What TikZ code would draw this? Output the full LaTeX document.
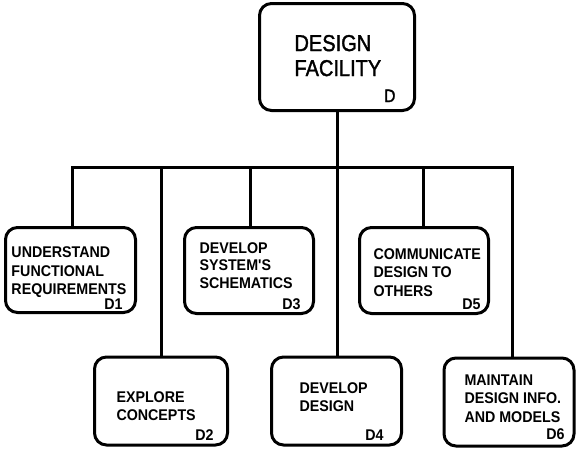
\documentclass[tikz,border=0pt]{standalone}
\usepackage{fontspec}
\setmainfont{Liberation Sans}
\newfontfamily\boxfont[FakeStretch=0.92]{Liberation Sans}
\newfontfamily\titlefont[FakeStretch=0.87, FakeBold=1.5]{Liberation Sans}

\begin{document}
\begin{tikzpicture}[x=1pt, y=-1pt, line width=3pt,
    box/.style={draw, rounded corners=12pt, inner sep=0pt},
    txt/.style={anchor=north west, inner sep=0pt, align=left,
        font=\boxfont\bfseries\fontsize{15.5}{18.3}\selectfont},
    code/.style={anchor=base east, inner sep=0pt,
        font=\boxfont\bfseries\fontsize{15.5}{18}\selectfont}]
    \useasboundingbox (0,0) rectangle (586,456);
    % boxes
    \node[box, minimum width=155pt, minimum height=107pt] (d) at (337,57) {};
    \node[box, minimum width=130pt, minimum height=85pt] (d1) at (70.5,270) {};
    \node[box, minimum width=129pt, minimum height=86pt] (d3) at (249,270.5) {};
    \node[box, minimum width=129pt, minimum height=86pt] (d5) at (424,270.5) {};
    \node[box, minimum width=133pt, minimum height=88pt] (d2) at (161,401) {};
    \node[box, minimum width=130pt, minimum height=88pt] (d4) at (336.5,401) {};
    \node[box, minimum width=130pt, minimum height=88pt] (d6) at (509,402) {};
    % texts
    \node[anchor=north west, inner sep=0pt, align=left,
        font=\titlefont\fontsize{23}{25}\selectfont] (dtxt) at (293,33.5) {DESIGN\\FACILITY};
    \node[anchor=base east, inner sep=0pt,
        font=\titlefont\fontsize{18}{20}\selectfont] (dcode) at (397,102) {D};
    \node[txt] (d1txt) at (10,245.6) {UNDERSTAND\\FUNCTIONAL\\REQUIREMENTS};
    \node[code] (d1code) at (124,309) {D1};
    \node[txt, font=\boxfont\bfseries\fontsize{15.5}{17.5}\selectfont] (d3txt) at (198,240.9)
        {DEVELOP\\SYSTEM'S\\SCHEMATICS};
    \node[code] (d3code) at (302,309) {D3};
    \node[txt, font=\boxfont\bfseries\fontsize{15.5}{18.5}\selectfont] (d5txt) at (372,246.9)
        {COMMUNICATE\\DESIGN TO\\OTHERS};
    \node[code] (d5code) at (482,309) {D5};
    \node[txt] (d2txt) at (115,389.9) {EXPLORE\\CONCEPTS};
    \node[code] (d2code) at (215,440) {D2};
    \node[txt] (d4txt) at (298,380.9) {DEVELOP\\DESIGN};
    \node[code] (d4code) at (385,440) {D4};
    \node[txt, font=\boxfont\bfseries\fontsize{15.5}{18.5}\selectfont] (d6txt) at (463,372.9)
        {MAINTAIN\\DESIGN INFO.\\AND MODELS};
    \node[code] (d6code) at (566,439) {D6};
    % tree
    \coordinate (b1) at (72,167);
    \coordinate (b2) at (161,167);
    \coordinate (b3) at (250,167);
    \coordinate (b5) at (423,167);
    \coordinate (b6) at (512,167);
    \draw (d.south) -- (d.south |- d4.north);
    \draw (b1 |- d1.north) -- (b1) -- (b6) -- (b6 |- d6.north);
    \draw (b2) -- (b2 |- d2.north);
    \draw (b3) -- (b3 |- d3.north);
    \draw (b5) -- (b5 |- d5.north);
\end{tikzpicture}
\end{document}
